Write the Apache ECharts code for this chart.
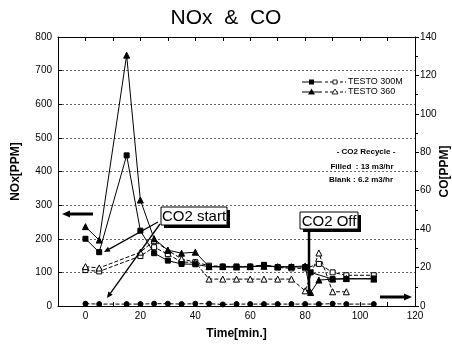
<!DOCTYPE html>
<html>
<head>
<meta charset="utf-8">
<script src="https://cdn.jsdelivr.net/npm/echarts@6/dist/echarts.min.js"></script>
<style>
  html, body { margin: 0; padding: 0; background: #fff; }
  #chart { width: 452px; height: 347px; }
</style>
</head>
<body>
<div id="chart"></div>
<script>
// NOx (left axis), filled markers
const tNox300 = [0, 5, 15, 20, 25, 30, 35, 40, 45, 50, 55, 60, 65, 70, 75, 80, 82, 90, 95, 105];
const nox300 = [200, 160, 448, 224, 157, 135, 125, 124, 117, 116, 116, 116, 122, 116, 116, 116, 100, 80, 80, 82];
const tNox360 = [0, 5, 15, 20, 25, 30, 35, 40, 45, 50, 55, 60, 65, 70, 75, 80, 82, 85, 90, 95, 105];
const nox360 = [236, 196, 746, 315, 200, 166, 157, 160, 117, 117, 116, 117, 118, 117, 117, 119, 40, 77, 80, 82, 80];
// CO (right axis), open markers
const tCo300 = [0, 5, 20, 25, 30, 35, 40, 45, 50, 55, 60, 65, 70, 75, 80, 85, 90, 95, 105];
const co300 = [18.7, 18, 26, 30.6, 27, 22.8, 22.8, 21, 20.6, 20.6, 20.6, 21.4, 20, 19.6, 19.6, 21.9, 17.5, 16, 16];
const tCo360 = [0, 5, 20, 25, 30, 35, 40, 45, 50, 55, 60, 65, 70, 75, 80, 85, 90, 95];
const co360 = [20.5, 19.8, 28, 34, 29, 24.5, 22.8, 14, 14, 14, 14, 14, 14, 14, 7.9, 27.6, 7.4, 7.4];
// CO near zero (filled circles)
const tBase = [0, 5, 15, 20, 25, 30, 35, 40, 45, 50, 55, 60, 65, 70, 75, 80, 85, 90, 95, 105];
const base = [1.2, 1, 1, 1, 1.2, 1.2, 1, 1.2, 1.2, 0.8, 1, 1, 1, 1, 1, 1, 1, 1.2, 1, 1];

const pairs = (xs, ys) => xs.map((x, i) => [x, ys[i]]);
const font = 'Liberation Sans, Arial, sans-serif';

const chart = echarts.init(document.getElementById('chart'), null, { renderer: 'canvas' });

function lineSeries(name, xs, ys, yIdx, symbol, size, filled, dashed) {
    return {
        name: name,
        type: 'line',
        yAxisIndex: yIdx,
        data: pairs(xs, ys),
        symbol: symbol,
        symbolSize: size,
        showAllSymbol: true,
        animation: false,
        lineStyle: { color: '#000', width: 1, type: dashed ? [4, 2] : 'solid' },
        itemStyle: { color: filled ? '#000' : '#fff', borderColor: '#000', borderWidth: 1 },
        z: filled ? 3 : 2
    };
}

// simple arrow helper for the hand-drawn annotations
function arrow(x1, y1, x2, y2, w, head) {
    const a = Math.atan2(y2 - y1, x2 - x1);
    const bx = x2 - head * Math.cos(a), by = y2 - head * Math.sin(a);
    const px = Math.sin(a) * head * 0.45, py = -Math.cos(a) * head * 0.45;
    return [
        { type: 'line', shape: { x1: x1, y1: y1, x2: bx, y2: by }, style: { stroke: '#000', lineWidth: w }, z: 10 },
        { type: 'polygon', shape: { points: [[x2, y2], [bx + px, by + py], [bx - px, by - py]] }, style: { fill: '#000' }, z: 10 }
    ];
}

function boxLabel(x, y, w, h, text) {
    return [
        { type: 'rect', shape: { x: x + 3, y: y + 3, width: w, height: h }, style: { fill: '#000' }, z: 11 },
        { type: 'rect', shape: { x: x, y: y, width: w, height: h }, style: { fill: '#fff', stroke: '#000', lineWidth: 1 }, z: 12 },
        { type: 'text', x: x + w / 2, y: y + h / 2 + 1, style: { text: text, font: '15px ' + font, fill: '#000', align: 'center', verticalAlign: 'middle' }, z: 13 }
    ];
}

const legendItems = [];
[['rect', 'TESTO 300M', 82], ['triangle', 'TESTO 360', 92]].forEach(([sym, label, y]) => {
    legendItems.push(
        { type: 'line', shape: { x1: 302, y1: y, x2: 322, y2: y }, style: { stroke: '#000', lineWidth: 1 } },
        { type: 'line', shape: { x1: 325, y1: y, x2: 346, y2: y }, style: { stroke: '#000', lineWidth: 1, lineDash: [3, 2] } },
        sym === 'rect'
            ? { type: 'rect', shape: { x: 309, y: y - 2.5, width: 5, height: 5 }, style: { fill: '#000' } }
            : { type: 'polygon', shape: { points: [[311.5, y - 3.5], [308, y + 2.5], [315, y + 2.5]] }, style: { fill: '#000' } },
        sym === 'rect'
            ? { type: 'rect', shape: { x: 333, y: y - 2, width: 4, height: 4 }, style: { fill: '#fff', stroke: '#000', lineWidth: 0.8 } }
            : { type: 'polygon', shape: { points: [[335, y - 3], [332, y + 2], [338, y + 2]] }, style: { fill: '#fff', stroke: '#000', lineWidth: 0.8 } },
        { type: 'text', x: 348, y: y, style: { text: label, font: '9px ' + font, fill: '#000', verticalAlign: 'middle' } }
    );
});

const notes = [
    { type: 'text', x: 366, y: 152, style: { text: '- CO2 Recycle -', font: 'bold 8px ' + font, fill: '#000', align: 'center', verticalAlign: 'middle' } },
    { type: 'text', x: 362, y: 167, style: { text: 'Filled  : 13 m3/hr', font: 'bold 8px ' + font, fill: '#000', align: 'center', verticalAlign: 'middle' } },
    { type: 'text', x: 361, y: 180, style: { text: 'Blank : 6.2 m3/hr', font: 'bold 8px ' + font, fill: '#000', align: 'center', verticalAlign: 'middle' } }
];

const axisName = { fontFamily: font, fontSize: 12, fontWeight: 'bold', color: '#000' };
const tickLabel = { fontFamily: font, fontSize: 10, color: '#000' };

const option = {
    animation: false,
    backgroundColor: '#fff',
    title: {
        text: 'NOx  &  CO',
        left: 'center',
        top: 3,
        textStyle: { fontFamily: font, fontSize: 21, fontWeight: 'normal', color: '#000' }
    },
    grid: { left: 58, right: 37, top: 37, bottom: 41, outerBoundsMode: 'none', containLabel: false },
    xAxis: [
        {
            type: 'value', min: -10, max: 120, interval: 10,
            name: 'Time[min.]', nameLocation: 'middle', nameGap: 22,
            nameTextStyle: axisName,
            axisLine: { onZero: false, lineStyle: { color: '#000', width: 1 } },
            axisTick: { inside: true, length: 4, lineStyle: { color: '#000' } },
            axisLabel: Object.assign({}, tickLabel, {
                margin: 5,
                formatter: v => (v % 20 === 0 && v >= 0) ? String(v) : ''
            }),
            splitLine: { show: false }
        },
        {
            type: 'value', min: -10, max: 120, interval: 10, position: 'top',
            axisLine: { onZero: false, lineStyle: { color: '#000', width: 1 } },
            axisTick: { inside: true, length: 4, lineStyle: { color: '#000' } },
            axisLabel: { show: false },
            splitLine: { show: false }
        }
    ],
    yAxis: [
        {
            type: 'value', min: 0, max: 800, interval: 100,
            name: 'NOx[PPM]', nameLocation: 'middle', nameGap: 36,
            nameTextStyle: axisName,
            axisLine: { show: true, onZero: false, lineStyle: { color: '#000', width: 1 } },
            axisTick: { inside: true, length: 4, lineStyle: { color: '#000' } },
            axisLabel: Object.assign({}, tickLabel, { margin: 6 }),
            splitLine: { show: true, lineStyle: { color: '#666', type: [2, 2], width: 1 } }
        },
        {
            type: 'value', min: 0, max: 140, interval: 20, position: 'right',
            name: 'CO[PPM]', nameLocation: 'middle', nameGap: 24, nameRotate: 90,
            nameMoveOverlap: false,
            nameTextStyle: axisName,
            axisLine: { show: true, onZero: false, lineStyle: { color: '#000', width: 1 } },
            axisTick: { inside: false, length: 4, lineStyle: { color: '#000' } },
            minorTick: { show: true, splitNumber: 2, length: 3, lineStyle: { color: '#000' } },
            axisLabel: Object.assign({}, tickLabel, { margin: 5 }),
            splitLine: { show: false }
        }
    ],
    series: [
        lineSeries('TESTO 300M NOx', tNox300, nox300, 0, 'rect', 5, true, false),
        lineSeries('TESTO 360 NOx', tNox360, nox360, 0, 'triangle', 6, true, false),
        lineSeries('TESTO 300M CO', tCo300, co300, 1, 'rect', 5, false, true),
        lineSeries('TESTO 360 CO', tCo360, co360, 1, 'triangle', 6, false, true),
        lineSeries('CO base', tBase, base, 1, 'circle', 5, true, true)
    ],
    graphic: [].concat(
        legendItems,
        notes,
        arrow(158, 222, 104, 252, 1.3, 6),
        arrow(160, 224, 107, 298, 1.3, 6),
        boxLabel(161, 207, 66, 18, 'CO2 start'),
        arrow(309, 228, 309, 296, 2.5, 6),
        boxLabel(300, 212, 58, 17, 'CO2 Off'),
        arrow(93, 214, 62, 214, 3, 8),
        arrow(380, 297, 412, 297, 3, 8)
    )
};

chart.setOption(option);
</script>
</body>
</html>
